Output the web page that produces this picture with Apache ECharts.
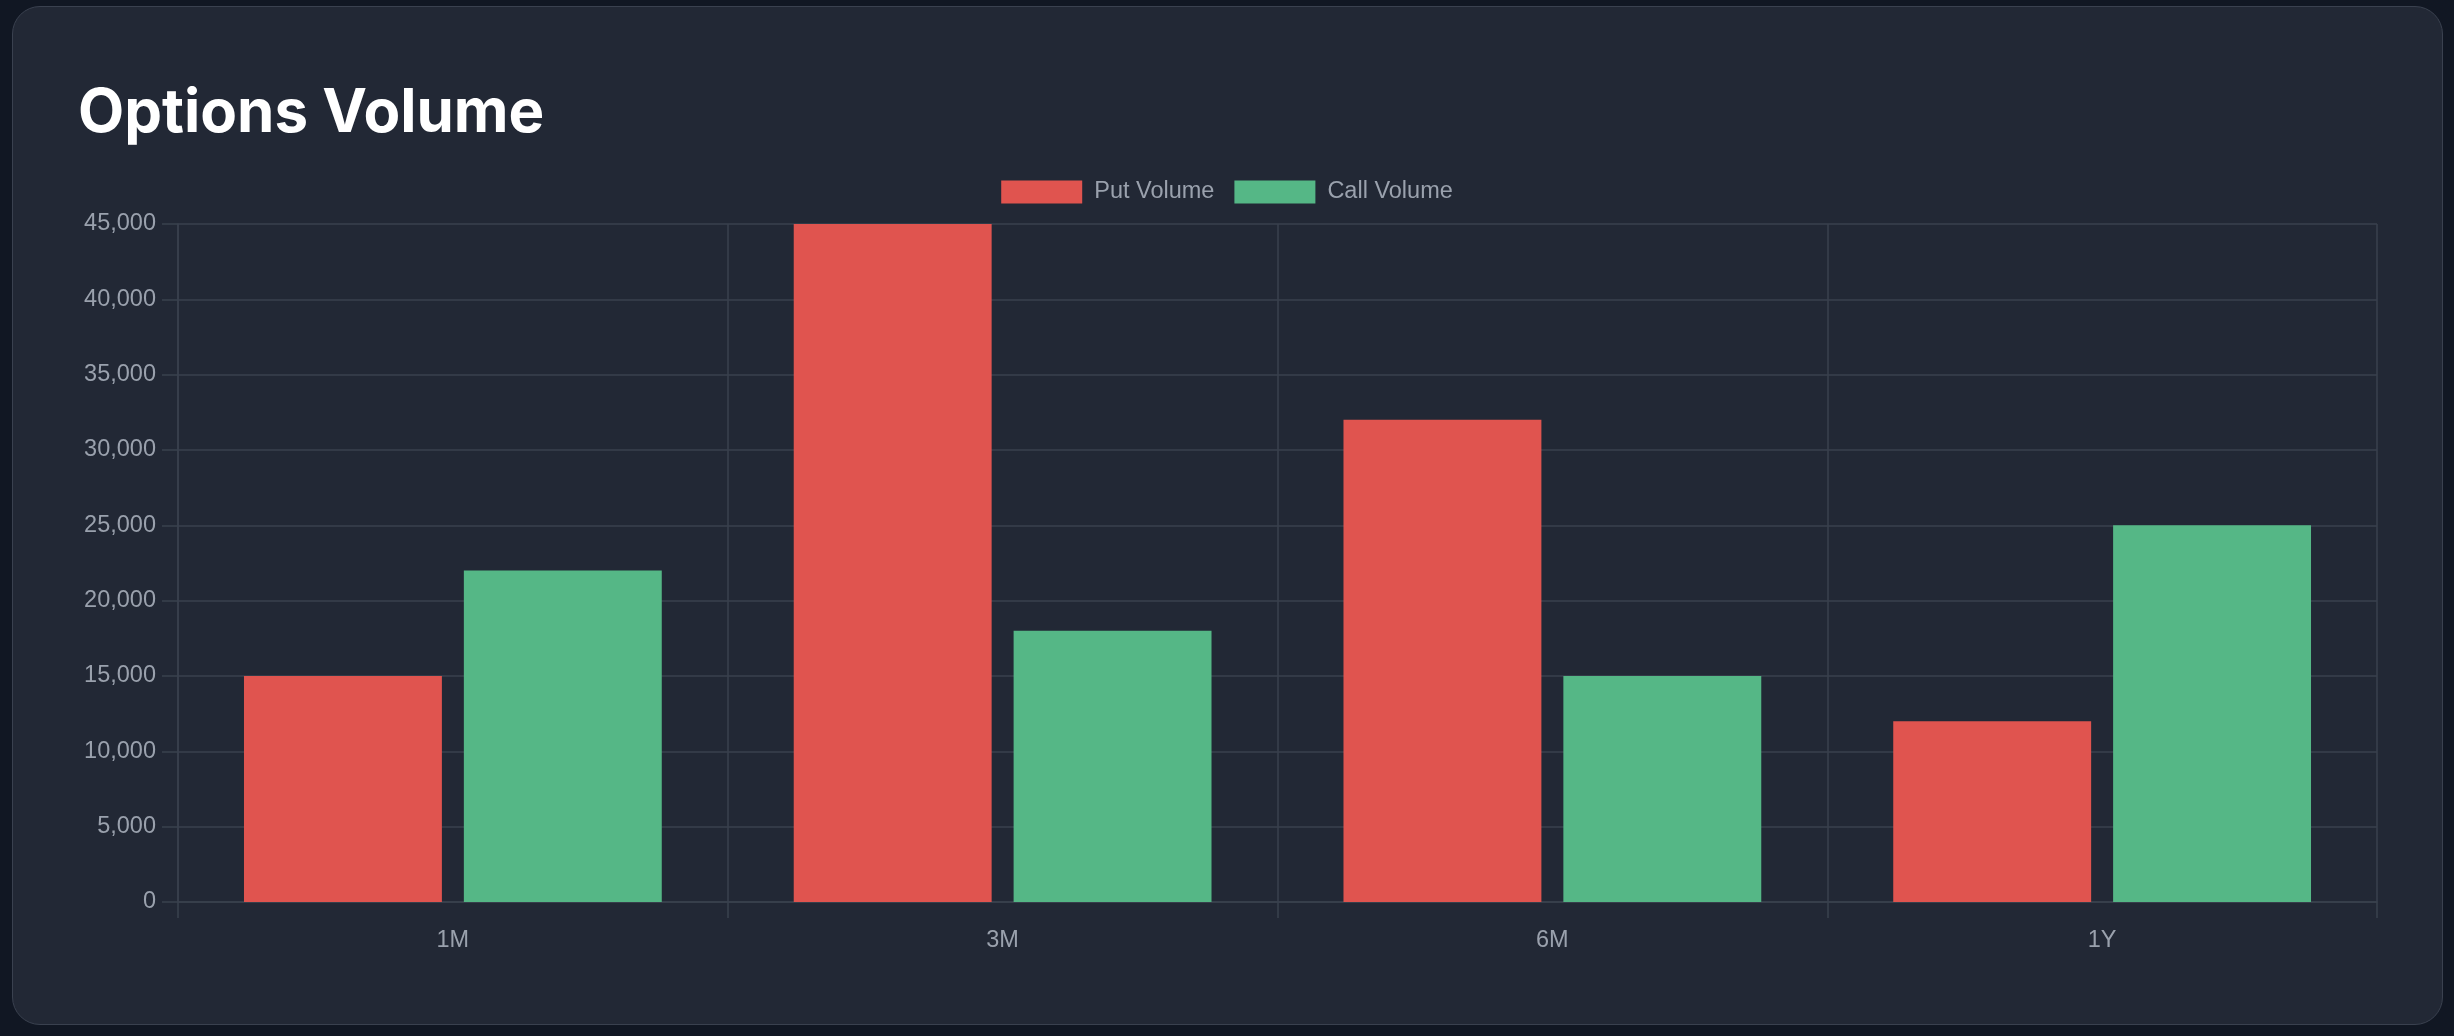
<!DOCTYPE html>
<html>
<head>
<meta charset="utf-8">
<script src="https://cdn.jsdelivr.net/npm/echarts@6/dist/echarts.min.js"></script>
<style>
  html, body { margin: 0; padding: 0; background: #111723; width: 2454px; height: 1036px; overflow: hidden; }
  #card { position: absolute; left: 12px; top: 6px; width: 2429px; height: 1017px; background: #222835; border: 1.5px solid #3a414f; border-radius: 28px; }
  #chart { position: absolute; left: 0; top: 0; width: 2454px; height: 1036px; }
</style>
</head>
<body>
<div id="card"></div>
<div id="chart"></div>
<script>
const categories = ['1M', '3M', '6M', '1Y'];
const putVolume = [15000, 45000, 32000, 12000];
const callVolume = [22000, 18000, 15000, 25000];
const seriesNames = ['Put Volume', 'Call Volume'];
const yTicks = { min: 0, max: 45000, interval: 5000 };

const labelColor = '#9aa1ad';
const gridColor = '#3a414e';
const font = '"Liberation Sans", Arial, Helvetica, sans-serif';

const chart = echarts.init(document.getElementById('chart'), null, { renderer: 'canvas' });
chart.setOption({
  backgroundColor: 'transparent',
  animation: false,
  title: {
    text: 'Options Volume',
    left: 73,
    top: 79,
    textStyle: { fontFamily: 'Inter', fontWeight: 700, fontSize: 60, color: '#ffffff' }
  },
  legend: {
    data: seriesNames,
    left: 'center',
    top: 175,
    itemWidth: 81,
    itemHeight: 23,
    itemGap: 20,
    icon: 'rect',
    textStyle: { color: labelColor, fontSize: 23.5, fontFamily: font, padding: [0, 0, 0, 7] }
  },
  grid: { left: 178, right: 77, top: 224, bottom: 134, containLabel: false },
  xAxis: {
    type: 'category',
    data: categories,
    boundaryGap: true,
    axisLine: { show: true, lineStyle: { color: gridColor, width: 1.5 } },
    axisTick: { show: true, length: 16, lineStyle: { color: gridColor, width: 1.5 } },
    splitLine: { show: true, interval: 0, lineStyle: { color: gridColor, width: 1.5 } },
    axisLabel: { color: labelColor, fontSize: 23.5, fontFamily: font, margin: 27 }
  },
  yAxis: {
    type: 'value',
    min: yTicks.min,
    max: yTicks.max,
    interval: yTicks.interval,
    axisLine: { show: true, lineStyle: { color: gridColor, width: 1.5 } },
    axisTick: { show: true, length: 16, lineStyle: { color: gridColor, width: 1.5 } },
    splitLine: { show: true, lineStyle: { color: gridColor, width: 1.5 } },
    axisLabel: {
      color: labelColor, fontSize: 23.5, fontFamily: font, margin: 22,
      formatter: v => v.toLocaleString('en-US')
    }
  },
  series: [
    { name: seriesNames[0], type: 'bar', data: putVolume, barWidth: '36%', barGap: '11.1%', itemStyle: { color: '#e0544f' } },
    { name: seriesNames[1], type: 'bar', data: callVolume, barWidth: '36%', barGap: '11.1%', itemStyle: { color: '#55b786' } }
  ]
});
</script>
</body>
</html>
